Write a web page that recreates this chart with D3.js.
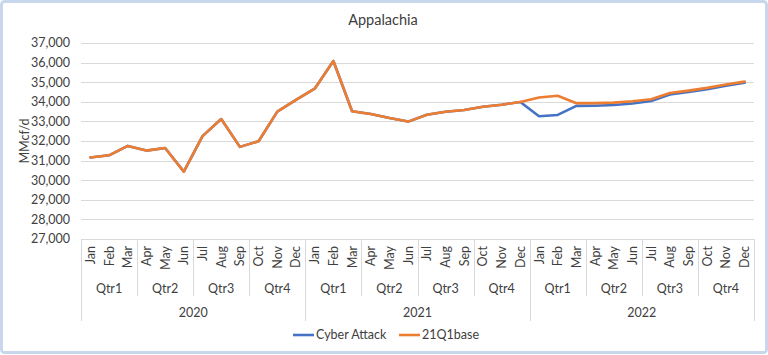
<!DOCTYPE html>
<html>
<head>
<meta charset="utf-8">
<script src="https://cdn.jsdelivr.net/npm/d3@7"></script>
<style>
  html, body { margin: 0; padding: 0; background: #ffffff; }
  svg { display: block; }
  text { font-family: Lato, "Open Sans", sans-serif; fill: #404040; }
</style>
</head>
<body>
<svg id="chart" width="768" height="355"></svg>
<script>
const title = "Appalachia";
const yLabel = "MMcf/d";
const years = ["2020", "2021", "2022"];
const quarters = ["Qtr1", "Qtr2", "Qtr3", "Qtr4"];
const monthNames = ["Jan","Feb","Mar","Apr","May","Jun","Jul","Aug","Sep","Oct","Nov","Dec"];
const yTicks = [27000, 28000, 29000, 30000, 31000, 32000, 33000, 34000, 35000, 36000, 37000];
const seriesNames = ["Cyber Attack", "21Q1base"];
const seriesColors = ["#4472C4", "#ED7D31"];

const cyberAttack = [
  31160, 31270, 31750, 31510, 31640, 30440, 32250, 33120, 31700, 31990, 33500, 34100,
  34670, 36080, 33520, 33380, 33170, 32990, 33340, 33490, 33580, 33750, 33850, 33990,
  33260, 33330, 33790, 33800, 33840, 33910, 34040, 34370, 34500, 34640, 34820, 34970
];
const base21Q1 = [
  31160, 31270, 31750, 31510, 31640, 30440, 32250, 33120, 31700, 31990, 33500, 34100,
  34670, 36080, 33520, 33380, 33170, 32990, 33340, 33490, 33580, 33750, 33850, 33990,
  34220, 34310, 33930, 33930, 33960, 34030, 34130, 34450, 34570, 34710, 34880, 35030
];

(function () {
const svg = d3.select("#chart");
const W = 768, H = 355;
const pLeft = 81, pRight = 754, pTop = 43, pBottom = 239;

// outer frame
svg.append("rect").attr("x", 0).attr("y", 0).attr("width", W).attr("height", H).attr("fill", "#ffffff");
svg.append("rect").attr("x", 1.5).attr("y", 1.5).attr("width", W - 3).attr("height", H - 4)
  .attr("rx", 3).attr("fill", "#ffffff").attr("stroke", "#c9d7ec").attr("stroke-width", 3);

const months = [];
years.forEach(yr => monthNames.forEach((m, i) => months.push({ key: yr + "-" + m, m, yr, q: quarters[Math.floor(i / 3)] })));

const x = d3.scaleBand().domain(months.map(d => d.key)).range([pLeft, pRight]).padding(0);
const y = d3.scaleLinear().domain([27000, 37000]).range([pBottom, pTop]);

// gridlines
svg.append("g").selectAll("line").data(yTicks.filter(t => t > 27000)).join("line")
  .attr("x1", pLeft).attr("x2", pRight)
  .attr("y1", d => Math.round(y(d)) + 0.5).attr("y2", d => Math.round(y(d)) + 0.5)
  .attr("stroke", "#d9d9d9").attr("stroke-width", 1);

// y axis labels
svg.append("g").selectAll("text").data(yTicks).join("text")
  .attr("x", 70).attr("y", d => y(d)).attr("dy", "0.35em")
  .attr("text-anchor", "end").attr("font-size", 12.5).text(d3.format(","));

svg.append("text").attr("transform", `translate(29,${(pTop + pBottom) / 2}) rotate(-90)`)
  .attr("text-anchor", "middle").attr("font-size", 12.5).text(yLabel);

// title
svg.append("text").attr("x", 383).attr("y", 25).attr("text-anchor", "middle")
  .attr("font-size", 14.5).text(title);

// category axis
const axisG = svg.append("g");
axisG.append("line").attr("x1", pLeft).attr("x2", pRight).attr("y1", pBottom + 0.5).attr("y2", pBottom + 0.5)
  .attr("stroke", "#d9d9d9");

axisG.selectAll("text.month").data(months).join("text").attr("class", "month")
  .attr("transform", d => `translate(${x(d.key) + x.bandwidth() / 2 + 4.5},${pBottom + 7}) rotate(-90)`)
  .attr("text-anchor", "end").attr("font-size", 12.5).text(d => d.m);

// quarter groups
const qGroups = [];
years.forEach(yr => quarters.forEach((q, qi) => {
  const first = yr + "-" + monthNames[qi * 3], last = yr + "-" + monthNames[qi * 3 + 2];
  qGroups.push({ yr, q, x0: x(first), x1: x(last) + x.bandwidth() });
}));
axisG.selectAll("text.q").data(qGroups).join("text").attr("class", "q")
  .attr("x", d => (d.x0 + d.x1) / 2).attr("y", 293).attr("text-anchor", "middle")
  .attr("font-size", 12.5).text(d => d.q);
axisG.selectAll("line.q").data(qGroups.filter(d => d.q !== "Qtr1")).join("line").attr("class", "q")
  .attr("x1", d => Math.round(d.x0) + 0.5).attr("x2", d => Math.round(d.x0) + 0.5)
  .attr("y1", pBottom).attr("y2", 296).attr("stroke", "#d9d9d9");

const yGroups = years.map(yr => ({ yr, x0: x(yr + "-Jan"), x1: x(yr + "-Dec") + x.bandwidth() }));
axisG.selectAll("text.yr").data(yGroups).join("text").attr("class", "yr")
  .attr("x", d => (d.x0 + d.x1) / 2).attr("y", 317).attr("text-anchor", "middle")
  .attr("font-size", 12.5).text(d => d.yr);
const yEdges = yGroups.map(d => d.x0).concat([pRight]);
axisG.selectAll("line.yr").data(yEdges).join("line").attr("class", "yr")
  .attr("x1", d => Math.round(d) + 0.5).attr("x2", d => Math.round(d) + 0.5)
  .attr("y1", pBottom).attr("y2", 321).attr("stroke", "#d9d9d9");

// lines
const seriesData = [cyberAttack, base21Q1];
const line = d3.line().x((d, i) => x(months[i].key) + x.bandwidth() / 2).y(d => y(d));
svg.append("g").selectAll("path").data(seriesData).join("path")
  .attr("d", d => line(d)).attr("fill", "none")
  .attr("stroke", (d, i) => seriesColors[i]).attr("stroke-width", 2.6)
  .attr("stroke-linejoin", "round").attr("stroke-linecap", "round");

// legend
const legendX = [293, 399];
const lg = svg.append("g").selectAll("g").data(seriesNames).join("g")
  .attr("transform", (d, i) => `translate(${legendX[i]},335)`);
lg.append("line").attr("x1", 0).attr("x2", 21).attr("y1", 0).attr("y2", 0)
  .attr("stroke", (d, i) => seriesColors[i]).attr("stroke-width", 2.6);
lg.append("text").attr("x", 23).attr("y", 0).attr("dy", "0.35em").attr("font-size", 12.5).text(d => d);
})();
</script>
</body>
</html>
